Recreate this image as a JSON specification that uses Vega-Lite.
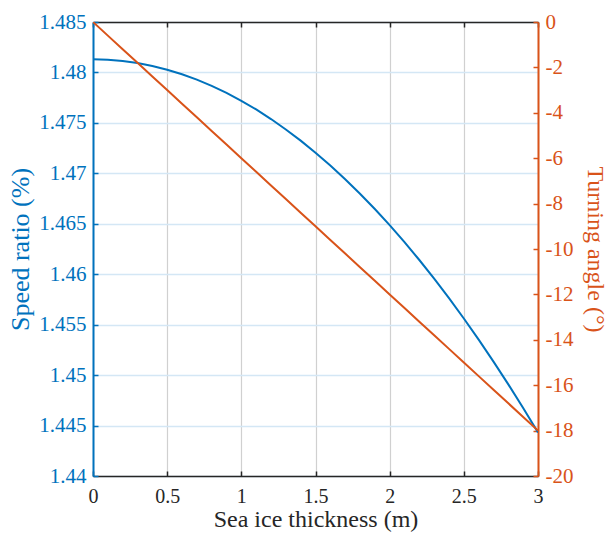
{
  "$schema": "https://vega.github.io/schema/vega-lite/v6.json",
  "width": 445,
  "height": 454,
  "autosize": {"type": "none"},
  "padding": {"left": 93, "top": 22, "right": 71, "bottom": 59},
  "background": "white",
  "config": {
    "font": "Liberation Serif",
    "view": {"stroke": null},
    "axis": {"titleFontWeight": "normal", "labelFontWeight": "normal", "labelFont": "Liberation Serif", "titleFont": "Liberation Serif"},
    "style": {"guide-label": {"font": "Liberation Serif", "fontSize": 21}, "guide-title": {"font": "Liberation Serif"}}
  },
  "data": {
    "values": [
      {"t": 0.0, "speed": 1.4813, "angle": 0},
      {"t": 0.1, "speed": 1.48126, "angle": -0.6},
      {"t": 0.2, "speed": 1.48114, "angle": -1.2},
      {"t": 0.3, "speed": 1.48093, "angle": -1.8},
      {"t": 0.4, "speed": 1.48064, "angle": -2.4},
      {"t": 0.5, "speed": 1.48027, "angle": -3.0},
      {"t": 0.6, "speed": 1.47982, "angle": -3.6},
      {"t": 0.7, "speed": 1.47929, "angle": -4.2},
      {"t": 0.8, "speed": 1.47867, "angle": -4.8},
      {"t": 0.9, "speed": 1.47797, "angle": -5.4},
      {"t": 1.0, "speed": 1.47719, "angle": -6.0},
      {"t": 1.1, "speed": 1.47633, "angle": -6.6},
      {"t": 1.2, "speed": 1.47538, "angle": -7.2},
      {"t": 1.3, "speed": 1.47435, "angle": -7.8},
      {"t": 1.4, "speed": 1.47324, "angle": -8.4},
      {"t": 1.5, "speed": 1.47205, "angle": -9.0},
      {"t": 1.6, "speed": 1.47078, "angle": -9.6},
      {"t": 1.7, "speed": 1.46942, "angle": -10.2},
      {"t": 1.8, "speed": 1.46798, "angle": -10.8},
      {"t": 1.9, "speed": 1.46646, "angle": -11.4},
      {"t": 2.0, "speed": 1.46486, "angle": -12.0},
      {"t": 2.1, "speed": 1.46318, "angle": -12.6},
      {"t": 2.2, "speed": 1.46141, "angle": -13.2},
      {"t": 2.3, "speed": 1.45956, "angle": -13.8},
      {"t": 2.4, "speed": 1.45763, "angle": -14.4},
      {"t": 2.5, "speed": 1.45561, "angle": -15.0},
      {"t": 2.6, "speed": 1.45352, "angle": -15.6},
      {"t": 2.7, "speed": 1.45134, "angle": -16.2},
      {"t": 2.8, "speed": 1.44908, "angle": -16.8},
      {"t": 2.9, "speed": 1.44674, "angle": -17.4},
      {"t": 3.0, "speed": 1.44431, "angle": -18.0}
    ]
  },
  "layer": [
    {
      "mark": {"type": "line", "color": "#0072BD", "strokeWidth": 2, "clip": true},
      "encoding": {
        "x": {
          "field": "t", "type": "quantitative",
          "scale": {"domain": [0, 3], "nice": false, "zero": false},
          "axis": {
            "orient": "bottom", "title": "Sea ice thickness (m)", "values": [0, 0.5, 1, 1.5, 2, 2.5, 3],
            "labelExpr": "'' + datum.value",
            "labelFont": "Liberation Serif", "titleFont": "Liberation Serif",
            "labelFontSize": 20, "titleFontSize": 24, "labelColor": "#262626", "titleColor": "#262626",
            "domainColor": "#262626", "domainWidth": 1.5, "tickColor": "#262626", "tickSize": -5, "tickWidth": 1.5,
            "labelPadding": 15, "titlePadding": 1,
            "grid": true, "gridColor": "#d0d0d0", "gridWidth": 1.2, "labelFlush": false, "labelOverlap": false,
            "encode": {"labels": {"update": {"font": {"value": "Liberation Serif"}, "fontSize": {"value": 20}}}}
          }
        },
        "y": {
          "field": "speed", "type": "quantitative",
          "scale": {"domain": [1.44, 1.485], "nice": false, "zero": false},
          "axis": {
            "orient": "left", "title": "Speed ratio (%)", "values": [1.44, 1.445, 1.45, 1.455, 1.46, 1.465, 1.47, 1.475, 1.48, 1.485],
            "labelExpr": "'' + datum.value",
            "labelFont": "Liberation Serif", "titleFont": "Liberation Serif",
            "labelFontSize": 21, "titleFontSize": 26, "labelColor": "#0072BD", "titleColor": "#0072BD",
            "domainColor": "#0072BD", "domainWidth": 2, "tickColor": "#0072BD", "tickSize": -5, "tickWidth": 1.5,
            "labelPadding": 12, "titlePadding": 5,
            "grid": true, "gridColor": "#d4e7f5", "gridWidth": 1.5, "labelOverlap": false,
            "encode": {"labels": {"update": {"font": {"value": "Liberation Serif"}, "fontSize": {"value": 21}}}}
          }
        }
      }
    },
    {
      "mark": {"type": "line", "color": "#D95319", "strokeWidth": 2, "clip": true},
      "encoding": {
        "x": {
          "field": "t", "type": "quantitative",
          "scale": {"domain": [0, 3], "nice": false, "zero": false},
          "axis": {
            "orient": "top", "title": null, "labels": false, "values": [0, 0.5, 1, 1.5, 2, 2.5, 3],
            "domainColor": "#262626", "domainWidth": 1.5, "tickColor": "#262626", "tickSize": -5, "tickWidth": 1.5,
            "grid": false
          }
        },
        "y": {
          "field": "angle", "type": "quantitative",
          "scale": {"domain": [-20, 0], "nice": false, "zero": false},
          "axis": {
            "orient": "right", "title": "Turning angle (°)", "values": [-20, -18, -16, -14, -12, -10, -8, -6, -4, -2, 0],
            "labelExpr": "'' + datum.value",
            "labelFont": "Liberation Serif", "titleFont": "Liberation Serif",
            "labelFontSize": 21, "titleFontSize": 24, "labelColor": "#D95319", "titleColor": "#D95319",
            "domainColor": "#D95319", "domainWidth": 2, "tickColor": "#D95319", "tickSize": -5, "tickWidth": 1.5,
            "labelPadding": 12, "titlePadding": 10,
            "grid": false, "labelOverlap": false,
            "encode": {"labels": {"update": {"font": {"value": "Liberation Serif"}, "fontSize": {"value": 21}}}}
          }
        }
      }
    }
  ],
  "resolve": {"scale": {"y": "independent"}, "axis": {"x": "independent", "y": "independent"}}
}
